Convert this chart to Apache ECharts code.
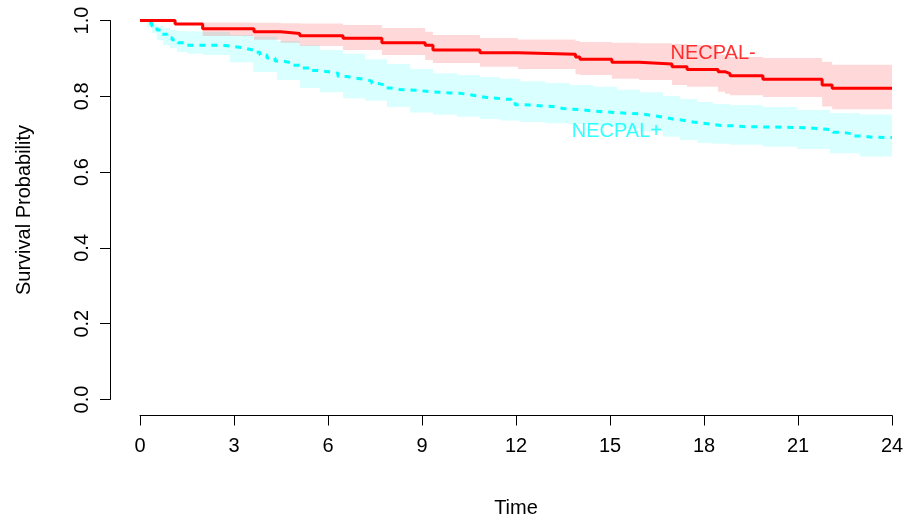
<!DOCTYPE html>
<html>
<head>
<meta charset="utf-8">
<script src="https://cdn.jsdelivr.net/npm/echarts@6/dist/echarts.min.js"></script>
<style>
  html, body { margin: 0; padding: 0; background: #ffffff; }
  #chart { width: 906px; height: 520px; }
</style>
</head>
<body>
<div id="chart"></div>
<script>
// Kaplan-Meier survival estimates by NECPAL status (time in months)

const groupNames = ['NECPAL-', 'NECPAL+'];

// NECPAL- : step curve
const timeNeg = [0, 1.12, 2.0, 3.64, 4.49, 5.1, 6.48, 7.72, 9.1, 9.35, 10.85, 12.06, 13.9, 14.04,
  15.06, 15.93, 16.98, 17.46, 18.45, 18.67, 18.83, 19.88, 21.77, 22.09, 24];
const survNeg = [1.0, 0.991, 0.978, 0.970, 0.966, 0.960, 0.953, 0.941, 0.935, 0.922, 0.915, 0.911, 0.904, 0.898,
  0.890, 0.885, 0.878, 0.871, 0.865, 0.860, 0.854, 0.845, 0.830, 0.821, 0.821];
const upperNeg = [1.0, 0.991, 0.995, 0.994, 0.993, 0.992, 0.988, 0.980, 0.970, 0.962, 0.954, 0.950, 0.946, 0.943,
  0.941, 0.940, 0.938, 0.935, 0.910, 0.906, 0.904, 0.901, 0.891, 0.883, 0.883];
const lowerNeg = [1.0, 0.991, 0.959, 0.949, 0.941, 0.933, 0.922, 0.909, 0.896, 0.888, 0.878, 0.872, 0.858, 0.856,
  0.846, 0.843, 0.830, 0.825, 0.812, 0.807, 0.803, 0.798, 0.773, 0.766, 0.766];

// NECPAL+ : step curve
const timePos = [0, 0.22, 0.38, 0.54, 0.70, 0.86, 1.02, 1.21, 1.50, 2.23, 2.71, 3.03, 3.35, 3.61, 3.83, 4.05,
  4.31, 4.56, 4.85, 5.11, 5.43, 5.68, 6.0, 6.32, 6.61, 6.86, 7.18, 7.40, 7.60, 7.79, 7.98, 8.30, 8.62, 8.94,
  9.26, 9.57, 9.89, 10.21, 10.47, 10.76, 11.07, 11.39, 11.65, 11.84, 11.97, 12.22, 12.54, 12.86, 13.18, 13.50,
  13.82, 14.14, 14.46, 14.84, 15.22, 15.64, 16.05, 16.37, 16.69, 17.01, 17.33, 17.65, 17.97, 18.29, 18.61,
  18.93, 19.24, 20.84, 21.16, 21.48, 21.80, 22.12, 22.44, 22.72, 23.08, 23.39, 24];
const survPos = [1.0, 0.993, 0.985, 0.975, 0.964, 0.955, 0.949, 0.941, 0.935, 0.934, 0.931, 0.927, 0.922, 0.916,
  0.909, 0.901, 0.893, 0.888, 0.882, 0.875, 0.868, 0.865, 0.861, 0.852, 0.848, 0.845, 0.840, 0.834, 0.830, 0.822,
  0.818, 0.817, 0.815, 0.812, 0.811, 0.809, 0.808, 0.805, 0.801, 0.797, 0.795, 0.792, 0.792, 0.785, 0.778, 0.777,
  0.774, 0.773, 0.768, 0.766, 0.764, 0.761, 0.759, 0.757, 0.755, 0.753, 0.749, 0.745, 0.740, 0.737, 0.732, 0.729,
  0.726, 0.722, 0.722, 0.720, 0.718, 0.717, 0.716, 0.714, 0.711, 0.705, 0.701, 0.695, 0.692, 0.691, 0.691];

// NECPAL+ : 95% confidence band
const bandTimePos = [0, 0.22, 0.38, 0.54, 0.73, 0.96, 1.18, 1.50, 2.01, 2.87, 3.61, 4.37, 5.11, 5.74, 6.48,
  7.18, 7.88, 8.62, 9.35, 10.12, 10.85, 11.49, 12.13, 12.93, 13.72, 14.46, 15.22, 15.96, 16.69, 17.23, 17.78,
  18.29, 18.83, 19.88, 20.97, 22.02, 22.98, 24];
const upperPos = [1.000, 0.996, 0.991, 0.985, 0.980, 0.975, 0.972, 0.971, 0.970, 0.962, 0.957, 0.946, 0.935,
  0.922, 0.912, 0.898, 0.885, 0.872, 0.861, 0.856, 0.851, 0.846, 0.840, 0.835, 0.830, 0.825, 0.817, 0.811,
  0.801, 0.793, 0.785, 0.780, 0.777, 0.772, 0.764, 0.756, 0.752, 0.751];
const lowerPos = [1.000, 0.983, 0.967, 0.948, 0.935, 0.927, 0.917, 0.912, 0.909, 0.890, 0.864, 0.843, 0.822,
  0.811, 0.795, 0.788, 0.772, 0.757, 0.751, 0.746, 0.740, 0.736, 0.732, 0.729, 0.727, 0.722, 0.715, 0.707,
  0.693, 0.685, 0.677, 0.675, 0.672, 0.667, 0.661, 0.650, 0.641, 0.637];

const xTicks = [0, 3, 6, 9, 12, 15, 18, 21, 24];
const yTicks = [0, 0.2, 0.4, 0.6, 0.8, 1.0];

const FONT = '"Liberation Sans", Arial, Helvetica, sans-serif';
const RED = '#ff0000';
const CYAN = '#00ffff';

const zip = (xs, ys) => xs.map((x, i) => [x, ys[i]]);

// Confidence band drawn as one stepped polygon: upper edge forward, lower edge back.
function bandSeries(times, lower, upper, fill) {
  return {
    type: 'custom', silent: true, z: 1,
    data: times.map((t, i) => [t, lower[i], upper[i]]),
    encode: { x: 0, y: [1, 2] },
    renderItem: function (params, api) {
      if (params.dataIndex !== 0) return null;
      const pts = [];
      const n = times.length;
      for (let i = 0; i < n; i++) {
        const tNext = i < n - 1 ? times[i + 1] : times[i];
        pts.push(api.coord([times[i], upper[i]]));
        pts.push(api.coord([tNext, upper[i]]));
      }
      for (let i = n - 1; i >= 0; i--) {
        const tNext = i < n - 1 ? times[i + 1] : times[i];
        pts.push(api.coord([tNext, lower[i]]));
        pts.push(api.coord([times[i], lower[i]]));
      }
      return { type: 'polygon', shape: { points: pts }, style: { fill: fill, stroke: null } };
    }
  };
}

const chart = echarts.init(document.getElementById('chart'), null, { renderer: 'canvas' });

chart.setOption({
  animation: false,
  backgroundColor: '#ffffff',
  textStyle: { fontFamily: FONT },
  grid: { left: 140, right: 14, top: 20.5, bottom: 120.5, containLabel: false, outerBoundsMode: 'none' },
  xAxis: {
    type: 'value',
    min: xTicks[0], max: xTicks[xTicks.length - 1], interval: 3,
    offset: 16,
    name: 'Time', nameLocation: 'middle', nameGap: 83,
    nameTextStyle: { fontSize: 20, color: '#000', fontFamily: FONT },
    axisLine: { show: true, onZero: false, lineStyle: { color: '#000', width: 1 } },
    axisTick: { show: true, length: 10, lineStyle: { color: '#000', width: 1 } },
    axisLabel: { fontSize: 20, color: '#000', margin: 21, fontFamily: FONT },
    splitLine: { show: false }
  },
  yAxis: {
    type: 'value',
    min: yTicks[0], max: yTicks[yTicks.length - 1], interval: 0.2,
    offset: 30,
    name: 'Survival Probability', nameLocation: 'middle', nameGap: 76, nameRotate: 90,
    nameTextStyle: { fontSize: 20, color: '#000', fontFamily: FONT },
    axisLine: { show: true, onZero: false, lineStyle: { color: '#000', width: 1 } },
    axisTick: { show: true, length: 10, lineStyle: { color: '#000', width: 1 } },
    axisLabel: { fontSize: 20, color: '#000', margin: 18, rotate: 90, fontFamily: FONT,
      formatter: v => v.toFixed(1) },
    splitLine: { show: false }
  },
  series: [
    bandSeries(bandTimePos, lowerPos, upperPos, 'rgba(0,255,255,0.15)'),
    bandSeries(timeNeg, lowerNeg, upperNeg, 'rgba(255,0,0,0.15)'),
    {
      name: groupNames[1], type: 'line', step: 'end', symbol: 'none', z: 3,
      lineStyle: { color: CYAN, width: 3, type: [6, 6] },
      data: zip(timePos, survPos)
    },
    {
      name: groupNames[0], type: 'line', step: 'end', symbol: 'none', z: 4,
      lineStyle: { color: RED, width: 3 },
      data: zip(timeNeg, survNeg)
    },
    {
      type: 'scatter', symbolSize: 0, silent: true, z: 5,
      data: [
        { value: [18.29, 0.914], label: { formatter: groupNames[0], color: RED } },
        { value: [15.22, 0.708], label: { formatter: groupNames[1], color: CYAN } }
      ],
      label: { show: true, position: 'inside', fontSize: 20, fontFamily: FONT }
    }
  ]
});
</script>
</body>
</html>
